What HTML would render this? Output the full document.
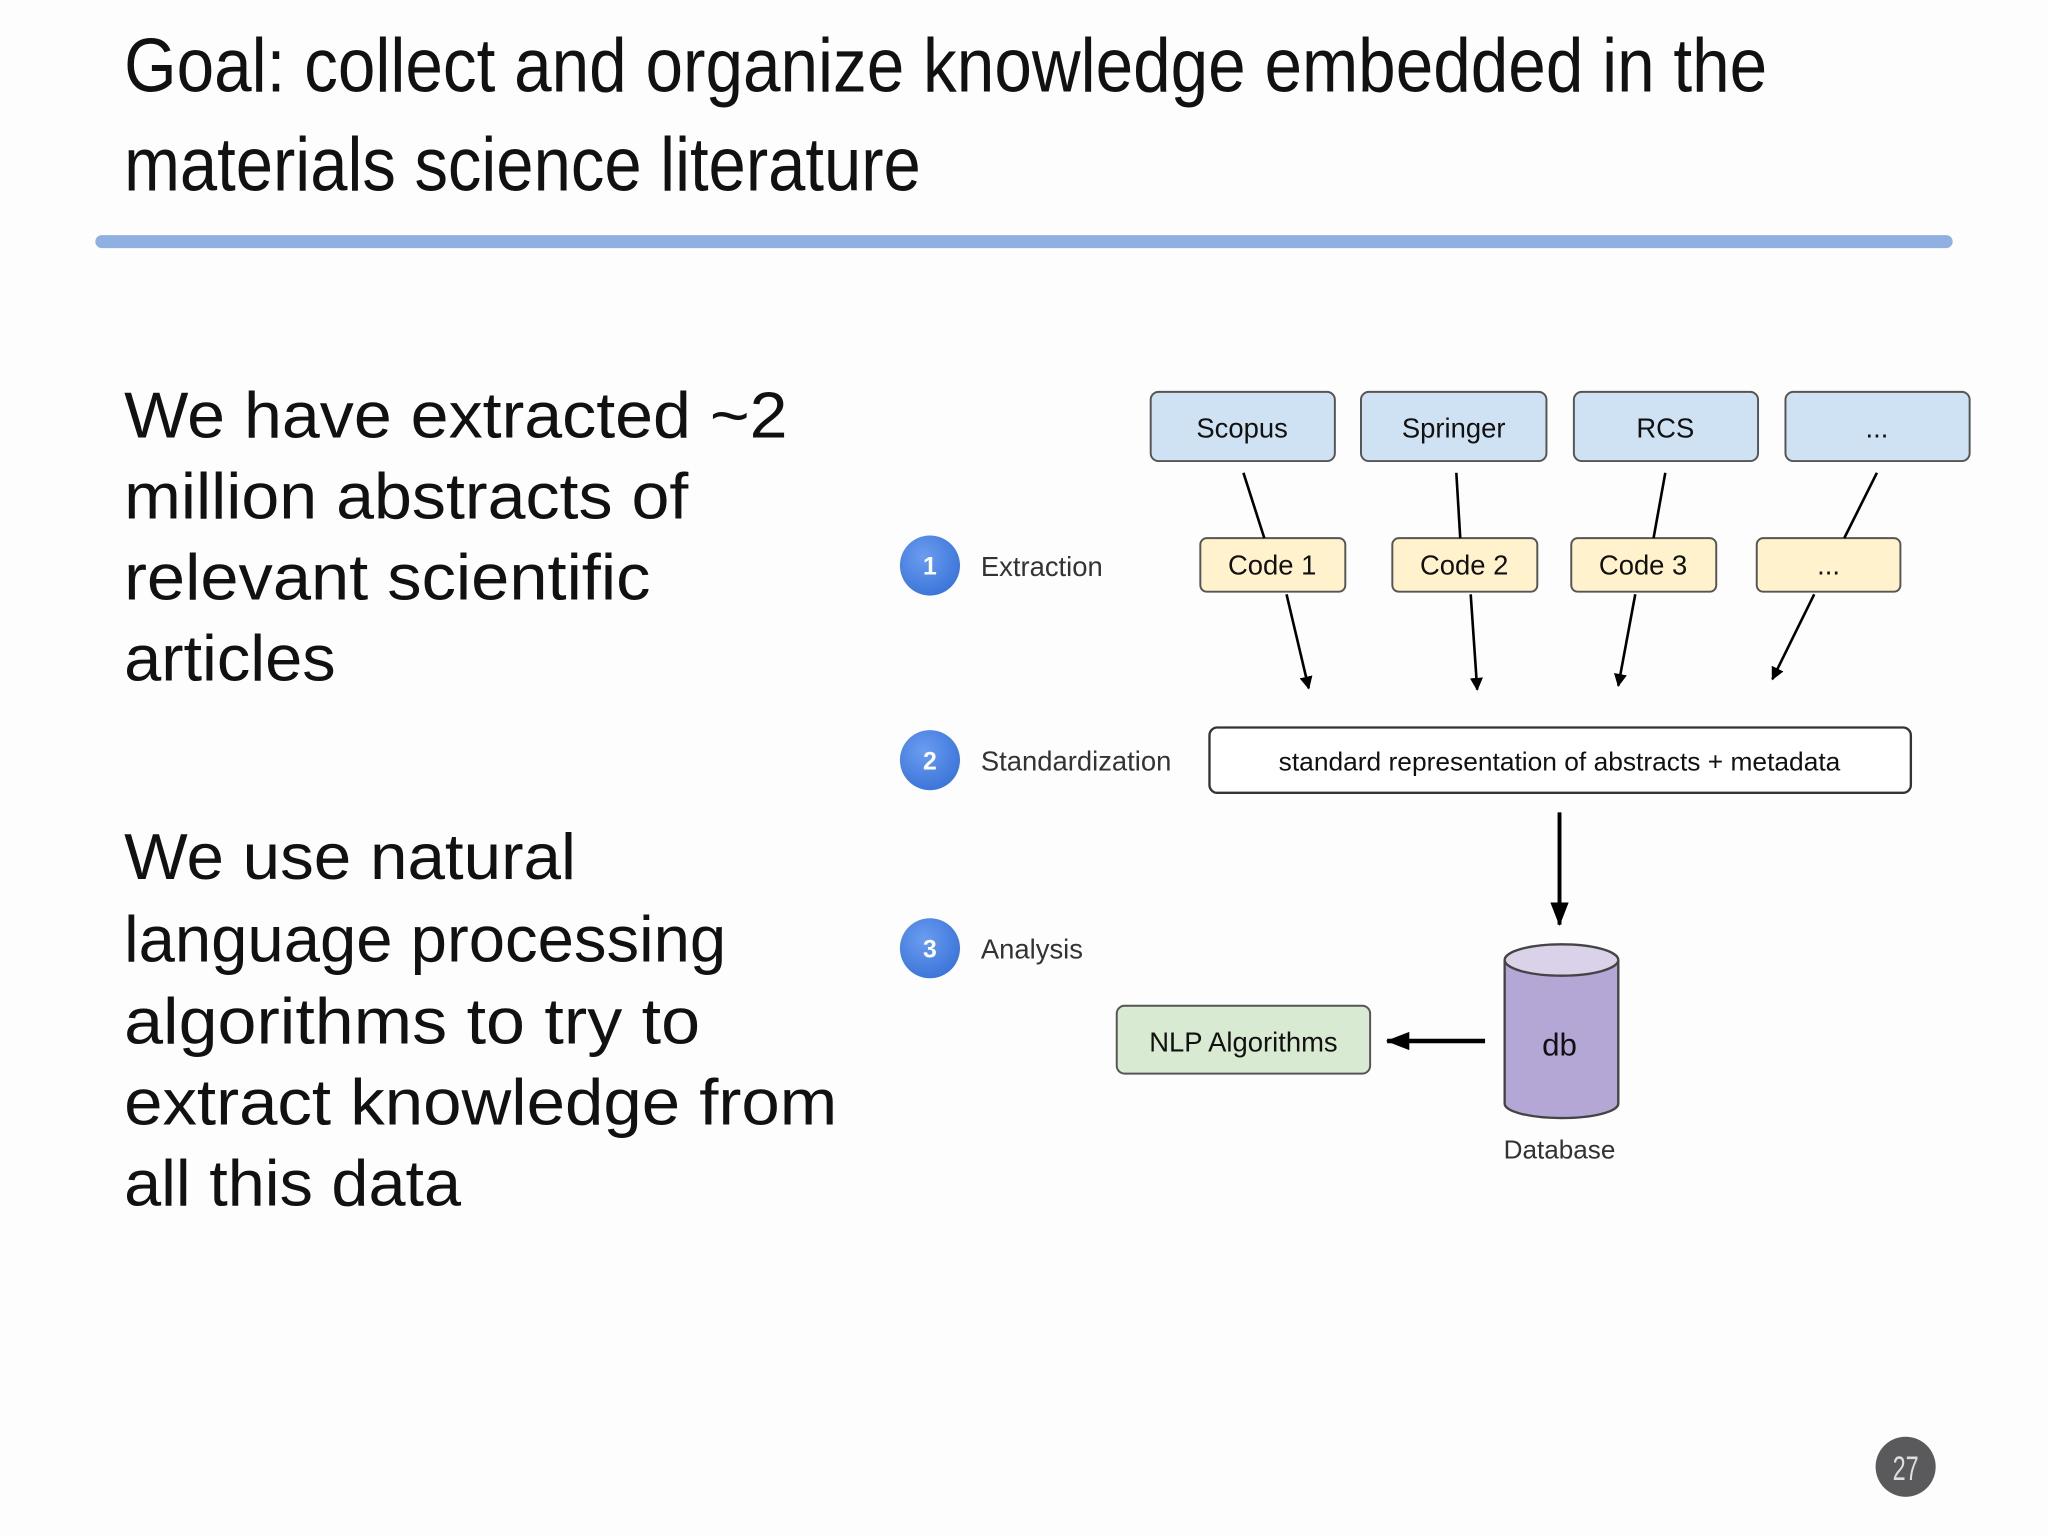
<!DOCTYPE html>
<html><head><meta charset="utf-8"><style>
html,body{margin:0;padding:0;background:#fdfdfd;}
svg{display:block;}
text{font-family:"Liberation Sans",sans-serif;}
</style></head><body>
<svg width="2048" height="1536" viewBox="0 0 1568 1176" xmlns="http://www.w3.org/2000/svg">
<defs>
<marker id="a" markerWidth="10" markerHeight="10" refX="9" refY="5" orient="auto" markerUnits="userSpaceOnUse"><path d="M0,0 L10,5 L0,10 z" fill="#000"/></marker>
<marker id="b" markerWidth="18" markerHeight="18" refX="17" refY="9" orient="auto" markerUnits="userSpaceOnUse"><path d="M0,2 L18,9 L0,16 z" fill="#000"/></marker>
<radialGradient id="g" cx="40%" cy="35%" r="70%"><stop offset="0" stop-color="#6b9cf0"/><stop offset="1" stop-color="#3a74d8"/></radialGradient>
</defs>
<rect width="1568" height="1176" fill="#fdfdfd"/>
<!-- title -->
<text x="95" y="70" font-size="58" fill="#111" textLength="1258" lengthAdjust="spacingAndGlyphs">Goal: collect and organize knowledge embedded in the</text>
<text x="95" y="146" font-size="58" fill="#111" textLength="610" lengthAdjust="spacingAndGlyphs">materials science literature</text>
<rect x="73" y="180" width="1422" height="10" rx="5" fill="#8fb0e1"/>
<!-- body -->
<g font-size="50" fill="#111">
<text x="95" y="335" textLength="508" lengthAdjust="spacingAndGlyphs">We have extracted ~2</text>
<text x="95" y="397" textLength="432" lengthAdjust="spacingAndGlyphs">million abstracts of</text>
<text x="95" y="459" textLength="403" lengthAdjust="spacingAndGlyphs">relevant scientific</text>
<text x="95" y="521" textLength="162" lengthAdjust="spacingAndGlyphs">articles</text>
<text x="95" y="673" textLength="346" lengthAdjust="spacingAndGlyphs">We use natural</text>
<text x="95" y="736" textLength="461" lengthAdjust="spacingAndGlyphs">language processing</text>
<text x="95" y="799" textLength="441" lengthAdjust="spacingAndGlyphs">algorithms to try to</text>
<text x="95" y="861" textLength="546" lengthAdjust="spacingAndGlyphs">extract knowledge from</text>
<text x="95" y="923" textLength="258" lengthAdjust="spacingAndGlyphs">all this data</text>
</g>
<!-- source boxes -->
<g fill="#cfe2f3" stroke="#555" stroke-width="1.5">
<rect x="881" y="300" width="141" height="53" rx="6"/>
<rect x="1042" y="300" width="142" height="53" rx="6"/>
<rect x="1205" y="300" width="141" height="53" rx="6"/>
<rect x="1367" y="300" width="141" height="53" rx="6"/>
</g>
<g font-size="21" fill="#111" text-anchor="middle">
<text x="951" y="335">Scopus</text>
<text x="1113" y="335">Springer</text>
<text x="1275" y="335">RCS</text>
<text x="1437" y="335">...</text>
</g>
<!-- code boxes -->
<g fill="#fff2cc" stroke="#555" stroke-width="1.5">
<rect x="919" y="412" width="111" height="41" rx="5"/>
<rect x="1066" y="412" width="111" height="41" rx="5"/>
<rect x="1203" y="412" width="111" height="41" rx="5"/>
<rect x="1345" y="412" width="110" height="41" rx="5"/>
</g>
<g font-size="21" fill="#111" text-anchor="middle">
<text x="974" y="440">Code 1</text>
<text x="1121" y="440">Code 2</text>
<text x="1258" y="440">Code 3</text>
<text x="1400" y="440">...</text>
</g>
<!-- connectors -->
<g stroke="#000" stroke-width="2" fill="none">
<line x1="952" y1="362" x2="968" y2="412"/>
<line x1="1115" y1="362" x2="1118" y2="412"/>
<line x1="1275" y1="362" x2="1266" y2="412"/>
<line x1="1437" y1="362" x2="1412" y2="412"/>
<line x1="985" y1="455" x2="1002" y2="527" marker-end="url(#a)"/>
<line x1="1126" y1="455" x2="1131" y2="528" marker-end="url(#a)"/>
<line x1="1252" y1="455" x2="1239" y2="525" marker-end="url(#a)"/>
<line x1="1389" y1="455" x2="1357" y2="520" marker-end="url(#a)"/>
</g>
<!-- steps -->
<g fill="url(#g)">
<circle cx="712" cy="433" r="23"/>
<circle cx="712" cy="582" r="23"/>
<circle cx="712" cy="726" r="23"/>
</g>
<g font-size="19" fill="#fff" text-anchor="middle" font-weight="bold">
<text x="712" y="440">1</text><text x="712" y="589">2</text><text x="712" y="733">3</text>
</g>
<g font-size="21" fill="#333">
<text x="751" y="441">Extraction</text>
<text x="751" y="590">Standardization</text>
<text x="751" y="734">Analysis</text>
</g>
<!-- standard box -->
<rect x="926" y="557" width="537" height="50" rx="6" fill="#fff" stroke="#333" stroke-width="1.8"/>
<text x="1194" y="590" font-size="20" fill="#111" text-anchor="middle" textLength="430" lengthAdjust="spacingAndGlyphs">standard representation of abstracts + metadata</text>
<line x1="1194" y1="622" x2="1194" y2="708" stroke="#000" stroke-width="3" marker-end="url(#b)"/>
<!-- cylinder -->
<path d="M1152,735 L1152,845 A43.5,11 0 0 0 1239,845 L1239,735" fill="#b4a7d6" stroke="#444" stroke-width="1.8"/>
<ellipse cx="1195.5" cy="735" rx="43.5" ry="12" fill="#d9d2e9" stroke="#444" stroke-width="1.8"/>
<text x="1194" y="808" font-size="24" fill="#111" text-anchor="middle">db</text>
<text x="1194" y="887" font-size="20" fill="#333" text-anchor="middle">Database</text>
<!-- NLP -->
<rect x="855" y="770" width="194" height="52" rx="6" fill="#d9ead3" stroke="#555" stroke-width="1.5"/>
<text x="952" y="805" font-size="21" fill="#111" text-anchor="middle">NLP Algorithms</text>
<line x1="1137" y1="797" x2="1062" y2="797" stroke="#000" stroke-width="3.5" marker-end="url(#b)"/>
<!-- page badge -->
<circle cx="1459" cy="1123" r="23" fill="#5a595c"/>
<text x="1459" y="1133" font-size="26" fill="#ddd" text-anchor="middle" textLength="20" lengthAdjust="spacingAndGlyphs">27</text>
</svg>
</body></html>
